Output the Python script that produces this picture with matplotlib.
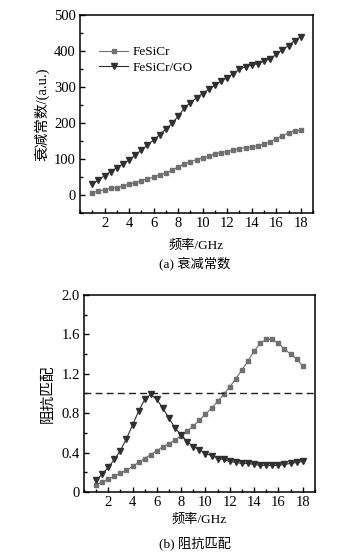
import numpy as np
import matplotlib
matplotlib.use("Agg")
import matplotlib.pyplot as plt
from matplotlib.ticker import MultipleLocator

plt.rcParams['font.family'] = ['Liberation Serif', 'Noto Sans CJK SC']

# frequency points (GHz)
freq = np.arange(1, 18.5, 0.5)

# (a) attenuation constant
atten_fesicr = [7, 11, 15, 19, 21, 25, 30, 34, 40, 45, 50, 56, 61, 69, 78, 87, 93, 98,
                103, 108, 114, 118, 121, 125, 129, 132, 134, 137, 142, 148, 157, 165,
                173, 179, 180]
atten_go = [30, 42, 54, 65, 76, 86, 97, 111, 125, 139, 153, 168, 183, 199, 219, 241,
            257, 270, 282, 294, 305, 317, 326, 337, 349, 357, 361, 365, 372, 378, 391,
            403, 415, 429, 440]

# (b) impedance matching
imp_fesicr = [0.07, 0.10, 0.13, 0.16, 0.19, 0.22, 0.26, 0.30, 0.34, 0.38, 0.42, 0.46,
              0.49, 0.53, 0.57, 0.62, 0.67, 0.73, 0.79, 0.85, 0.92, 0.99, 1.07, 1.15,
              1.24, 1.33, 1.43, 1.51, 1.55, 1.55, 1.51, 1.45, 1.40, 1.35, 1.28]
imp_go = [0.12, 0.18, 0.25, 0.33, 0.42, 0.54, 0.68, 0.82, 0.94, 0.99, 0.94, 0.85,
          0.75, 0.65, 0.58, 0.51, 0.46, 0.43, 0.39, 0.37, 0.34, 0.33, 0.31, 0.30,
          0.29, 0.29, 0.28, 0.27, 0.27, 0.27, 0.27, 0.28, 0.29, 0.30, 0.31]

gray = '#707070'
dark = '#303030'

fig = plt.figure(figsize=(3.51, 5.55), dpi=100)
ax1 = fig.add_axes([0.228, 0.616, 0.664, 0.357])
ax2 = fig.add_axes([0.239, 0.1135, 0.658, 0.355])


def style(ax):
    ax.tick_params(which='both', direction='in', labelsize=10.5, pad=3)
    ax.tick_params(which='major', length=3.5, width=1)
    ax.tick_params(which='minor', length=2, width=1)
    for s in ax.spines.values():
        s.set_linewidth(1.1)
    ax.set_xlim(0, 19)
    ax.xaxis.set_major_locator(MultipleLocator(2))
    ax.xaxis.set_minor_locator(MultipleLocator(1))
    ax.set_xticks(np.arange(2, 19, 2))


ax1.plot(freq, atten_fesicr, color=gray, marker='s', ms=3.3, lw=0.8, label='FeSiCr')
ax1.plot(freq, atten_go, color=dark, marker='v', ms=3.8, lw=0.8, label='FeSiCr/GO')
style(ax1)
ax1.set_ylim(-50, 500)
ax1.yaxis.set_major_locator(MultipleLocator(100))
ax1.yaxis.set_minor_locator(MultipleLocator(50))
ax1.set_ylabel('衰减常数/(a.u.)', fontsize=10.5, labelpad=3)
ax1.set_xlabel('频率/GHz', fontsize=9.5, labelpad=7)
ax1.legend(loc='upper left', bbox_to_anchor=(0.06, 0.87), frameon=False, fontsize=9.5,
           handlelength=2.2, handletextpad=0.3, labelspacing=0.25, borderaxespad=0)

ax2.plot(freq, imp_fesicr, color=gray, marker='s', ms=3.3, lw=0.8)
ax2.plot(freq, imp_go, color=dark, marker='v', ms=3.8, lw=0.8)
ax2.axhline(1.0, color='#222222', lw=1, ls=(0, (5, 3)))
style(ax2)
ax2.set_ylim(0, 2.0)
ax2.set_yticks([0, 0.4, 0.8, 1.2, 1.6, 2.0])
ax2.set_yticklabels(['0', '0.4', '0.8', '1.2', '1.6', '2.0'])
ax2.yaxis.set_minor_locator(MultipleLocator(0.2))
ax2.set_ylabel('阻抗匹配', fontsize=10.5, labelpad=5)
ax2.set_xlabel('频率/GHz', fontsize=9.5, labelpad=3)

fig.text(0.556, 1 - 263 / 555, '(a) 衰减常数', ha='center', va='center', fontsize=9.5)
fig.text(0.556, 1 - 543 / 555, '(b) 阻抗匹配', ha='center', va='center', fontsize=9.5)

fig.savefig('out.png', dpi=100, facecolor='white')
